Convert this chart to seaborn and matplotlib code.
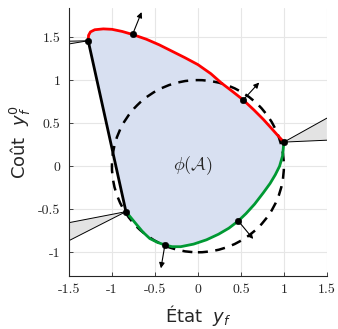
import numpy as np
import matplotlib
matplotlib.use("Agg")
import matplotlib.pyplot as plt
import matplotlib.patches as mpatches
import seaborn as sns

# frontière supérieure (rouge), de gauche à droite
red_x = [-1.276, -1.272, -1.25, -1.20, -1.10, -1.00, -0.88, -0.76, -0.60, -0.45, -0.33, -0.15, 0.00, 0.15, 0.275, 0.40, 0.527, 0.65, 0.76, 0.86, 0.94, 1.00]
red_y = [1.457, 1.52, 1.56, 1.585, 1.595, 1.59, 1.565, 1.53, 1.475, 1.41, 1.35, 1.26, 1.18, 1.075, 0.965, 0.87, 0.77, 0.655, 0.545, 0.435, 0.345, 0.28]

# frontière inférieure (verte), de droite à gauche
green_x = [1.00, 0.985, 0.95, 0.90, 0.84, 0.76, 0.66, 0.56, 0.47, 0.36, 0.24, 0.10, -0.05, -0.20, -0.30, -0.384, -0.47, -0.56, -0.64, -0.72, -0.79, -0.837]
green_y = [0.28, 0.12, 0.00, -0.10, -0.20, -0.31, -0.44, -0.55, -0.636, -0.72, -0.79, -0.855, -0.905, -0.935, -0.935, -0.915, -0.885, -0.84, -0.765, -0.67, -0.585, -0.528]

# segment noir à gauche
seg_x = [-0.837, -1.276]
seg_y = [-0.528, 1.457]

# points marqués
pts_x = [-1.276, -0.76, 0.527, 1.00, 0.47, -0.384, -0.837]
pts_y = [1.457, 1.53, 0.77, 0.28, -0.636, -0.915, -0.528]

# normales (départ -> arrivée)
arr_start = [(-0.76, 1.53), (0.527, 0.77), (0.47, -0.636), (-0.384, -0.915)]
arr_end = [(-0.655, 1.79), (0.713, 0.972), (0.643, -0.845), (-0.43, -1.186)]

# cônes normaux : sommet, bord 1, bord 2
cones = [
    [(-1.276, 1.457), (-1.5, 1.452), (-1.5, 1.42)],
    [(1.00, 0.28), (1.5, 0.558), (1.5, 0.302)],
    [(-0.837, -0.528), (-1.5, -0.656), (-1.5, -0.865)],
]

xticks = [-1.5, -1, -0.5, 0, 0.5, 1, 1.5]
xlabels = ["-1.5", "-1", "-0.5", "0", "0.5", "1", "1.5"]
yticks = [-1, -0.5, 0, 0.5, 1, 1.5]
ylabels = ["-1", "-0.5", "0", "0.5", "1", "1.5"]

sns.set_theme(style="whitegrid")
plt.rcParams['font.family'] = ['DejaVu Sans']

fig = plt.figure(figsize=(3.38, 3.29), dpi=100)
ax = fig.add_axes([0.204, 0.162, 0.763, 0.813])

# région phi(A)
poly_x = red_x + green_x + [seg_x[1]]
poly_y = red_y + green_y + [seg_y[1]]
ax.fill(poly_x, poly_y, color="#d8e0f1", lw=0, zorder=1)

# cônes
for c in cones:
    ax.fill([p[0] for p in c], [p[1] for p in c], color="#e3e3e3", lw=0, zorder=1.5)
    for p in c[1:]:
        ax.plot([c[0][0], p[0]], [c[0][1], p[1]], color="black", lw=0.7, zorder=2)

# cercle unité en tirets
circ = mpatches.Circle((0, 0), 1, fill=False, ls=(0, (4, 3)), lw=1.8, color="black", zorder=3)
ax.add_patch(circ)

sns.lineplot(x=red_x, y=red_y, sort=False, color="#ff0000", lw=2, ax=ax, zorder=4)
sns.lineplot(x=green_x, y=green_y, sort=False, color="#009933", lw=2, ax=ax, zorder=4)
sns.lineplot(x=seg_x, y=seg_y, sort=False, color="black", lw=2, ax=ax, zorder=4)

for s, e in zip(arr_start, arr_end):
    ax.annotate("", xy=e, xytext=s,
                arrowprops=dict(arrowstyle="-|>", color="black", lw=0.8,
                                mutation_scale=8, shrinkA=0, shrinkB=0), zorder=5)

sns.scatterplot(x=pts_x, y=pts_y, color="black", s=22, edgecolor="black", ax=ax, zorder=6)

ax.text(-0.06, 0.01, r"$\phi(\mathcal{A})$", fontsize=13, math_fontfamily="cm",
        ha="center", va="center", zorder=7)

ax.set_xlim(-1.5, 1.5)
ax.set_ylim(-1.272, 1.835)
ax.set_xticks(xticks)
ax.set_xticklabels(xlabels, fontfamily="cmr10", fontsize=10)
ax.set_yticks(yticks)
ax.set_yticklabels(ylabels, fontfamily="cmr10", fontsize=10)
ax.grid(True, color="#e6e6e6", lw=0.8)
ax.set_axisbelow(True)
ax.tick_params(axis="both", direction="in", length=3, width=0.6, colors="#262626",
               pad=6, left=True, bottom=True)
for side in ["top", "right"]:
    ax.spines[side].set_visible(False)
for side in ["left", "bottom"]:
    ax.spines[side].set_color("#262626")
    ax.spines[side].set_linewidth(0.8)

ax.set_xlabel(r"État  $y_f$", fontsize=13, labelpad=5)
ax.set_ylabel(r"Coût  $y_f^0$", fontsize=13, labelpad=4)

fig.savefig("out.png", dpi=100)
